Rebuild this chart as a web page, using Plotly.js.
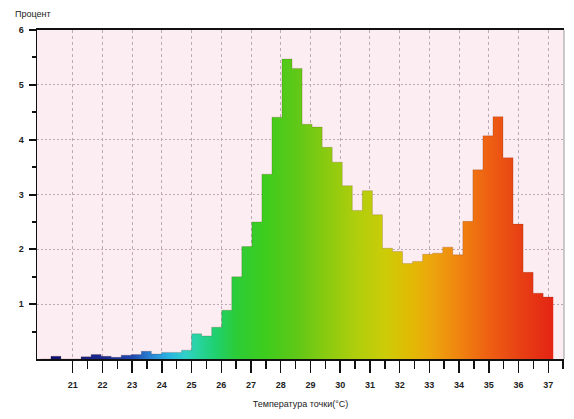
<!DOCTYPE html>
<html><head><meta charset="utf-8">
<script src="https://cdn.plot.ly/plotly-3.0.1.min.js"></script>
<style>html,body{margin:0;padding:0;background:#fff}#chart{width:574px;height:419px}</style>
</head><body><div id="chart"></div>
<script>
// Histogram bins (temperature, °C) and share of points (%)
const binStart = 19.93;
const binWidth = 0.338;
const percent = [0, 0.05, 0, 0, 0.04, 0.08, 0.05, 0.03, 0.07, 0.08, 0.14, 0.09, 0.12, 0.12, 0.16,
  0.46, 0.42, 0.58, 0.89, 1.50, 2.05, 2.50, 3.37, 4.41, 5.47, 5.30, 4.28, 4.23, 3.86, 3.59,
  3.16, 2.71, 3.07, 2.63, 2.02, 1.96, 1.74, 1.78, 1.91, 1.93, 2.04, 1.90, 2.51, 3.45, 4.07,
  4.42, 3.67, 2.46, 1.58, 1.20, 1.13];
const xTicks = [21, 22, 23, 24, 25, 26, 27, 28, 29, 30, 31, 32, 33, 34, 35, 36, 37];
const xMinorTicks = [21.5, 22.5, 23.5, 24.5, 25.5, 26.5, 27.5, 28.5, 29.5, 30.5, 31.5, 32.5, 33.5, 34.5, 35.5, 36.5, 37.5];
const yTicks = [1, 2, 3, 4, 5, 6];
const yMinorTicks = [0.5, 1.5, 2.5, 3.5, 4.5, 5.5];
const xTitle = 'Температура точки(°C)';
const yTitle = 'Процент';
const tempColors = [
  [0.00, '#0d0d6b'], [0.12, '#1a2a90'], [0.178, '#2048b0'], [0.219, '#2a8ad8'],
  [0.253, '#2ab8e0'], [0.282, '#30d0c8'], [0.306, '#28d4a0'], [0.34, '#1fd070'],
  [0.381, '#2ccc38'], [0.439, '#3ecc1c'], [0.497, '#5ec818'], [0.555, '#88ca10'],
  [0.613, '#aece0c'], [0.671, '#cccc08'], [0.718, '#e0bc04'], [0.759, '#eca80c'],
  [0.817, '#f08410'], [0.874, '#ee6012'], [0.932, '#e84214'], [1.00, '#e42414']
];

const edges = percent.map((_, i) => binStart + i * binWidth);
edges.push(binStart + percent.length * binWidth);
const stepY = percent.concat([percent[percent.length - 1]]);

const trace = {
  type: 'scatter', mode: 'lines',
  x: edges, y: stepY,
  line: {shape: 'hv', width: 1, color: 'rgba(90,20,0,0.18)'},
  fill: 'tozeroy',
  fillgradient: {type: 'horizontal', colorscale: tempColors, start: edges[0], stop: edges[edges.length - 1]},
  hoverinfo: 'x+y'
};

const tickFont = {family: 'Liberation Sans Narrow, Arial Narrow, Liberation Sans, Arial, sans-serif', size: 9, color: '#222', weight: 'bold'};

const layout = {
  width: 574, height: 419,
  margin: {l: 37, r: 10, t: 30, b: 60},
  paper_bgcolor: '#ffffff', plot_bgcolor: '#fcedf2',
  showlegend: false,
  xaxis: {
    range: [19.8, 37.53], tickmode: 'array', tickvals: xTicks, ticktext: xTicks.map(String),
    ticks: 'outside', ticklen: 12, tickwidth: 1.5, tickcolor: '#111',
    showline: true, linecolor: '#111', linewidth: 2, mirror: true,
    showgrid: true, gridcolor: '#bcaab4', griddash: '3px,3px', gridwidth: 1,
    zeroline: false, tickfont: tickFont, ticklabelstandoff: 4,
    minor: {tickmode: 'array', tickvals: xMinorTicks, ticks: 'outside', ticklen: 8, tickwidth: 1.5, tickcolor: '#111', showgrid: false},
    title: {text: xTitle, font: {family: 'Liberation Sans Narrow, Liberation Sans, Arial, sans-serif', size: 9, color: '#222'}, standoff: 12}
  },
  yaxis: {
    range: [0, 6], tickmode: 'array', tickvals: yTicks, ticktext: yTicks.map(String),
    ticks: 'outside', ticklen: 7, tickwidth: 2, tickcolor: '#111',
    showline: true, linecolor: '#111', linewidth: 1.5,
    showgrid: true, gridcolor: '#bcaab4', griddash: '2px,2px', gridwidth: 1,
    zeroline: false, tickfont: tickFont, ticklabelstandoff: 3,
    minor: {tickmode: 'array', tickvals: yMinorTicks, ticks: 'outside', ticklen: 4, tickwidth: 2, tickcolor: '#111', showgrid: false}
  },
  shapes: [
    {type: 'line', xref: 'paper', yref: 'paper', x0: 1, x1: 1, y0: 0, y1: 1, line: {color: '#999', width: 1}}
  ],
  annotations: [
    {text: yTitle, xref: 'paper', yref: 'paper', x: -0.046, y: 1.05, xanchor: 'left', yanchor: 'middle', showarrow: false,
     font: {family: 'Liberation Sans Narrow, Liberation Sans, Arial, sans-serif', size: 9, color: '#222'}}
  ]
};

Plotly.newPlot('chart', [trace], layout, {displayModeBar: false, staticPlot: true});
</script></body></html>
